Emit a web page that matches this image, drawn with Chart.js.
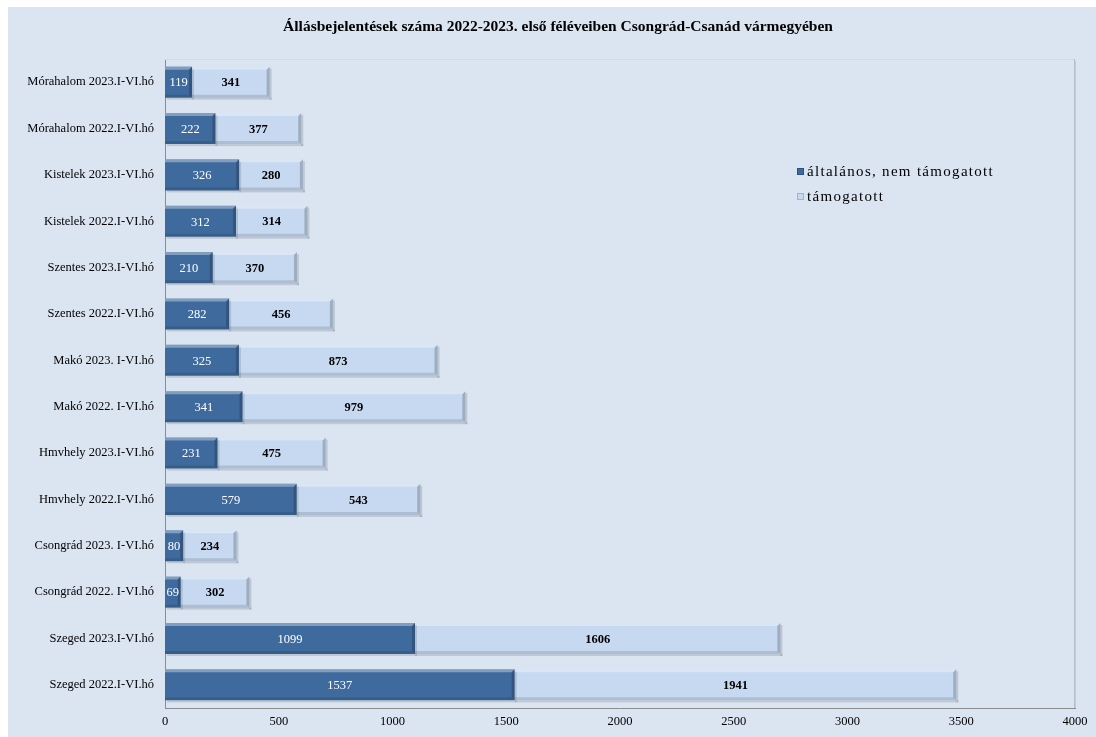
<!DOCTYPE html>
<html>
<head>
<meta charset="utf-8">
<script src="https://cdn.jsdelivr.net/npm/chart.js@4/dist/chart.umd.min.js"></script>
<style>
  html, body { margin: 0; padding: 0; background: #ffffff; }
  #wrap { position: absolute; left: 8px; top: 7px; width: 1088px; height: 730px; background: #dbe5f1; }
</style>
</head>
<body>
<div id="wrap"><canvas id="chart" width="1088" height="730"></canvas></div>
<script>
const chartTitle = 'Állásbejelentések száma 2022-2023. első féléveiben Csongrád-Csanád vármegyében';

const categories = [
    'Mórahalom 2023.I-VI.hó',
    'Mórahalom 2022.I-VI.hó',
    'Kistelek 2023.I-VI.hó',
    'Kistelek 2022.I-VI.hó',
    'Szentes 2023.I-VI.hó',
    'Szentes 2022.I-VI.hó',
    'Makó 2023. I-VI.hó',
    'Makó 2022. I-VI.hó',
    'Hmvhely 2023.I-VI.hó',
    'Hmvhely 2022.I-VI.hó',
    'Csongrád 2023. I-VI.hó',
    'Csongrád 2022. I-VI.hó',
    'Szeged 2023.I-VI.hó',
    'Szeged 2022.I-VI.hó'
];

const seriesNames = ['általános, nem támogatott', 'támogatott'];
const generalValues = [119, 222, 326, 312, 210, 282, 325, 341, 231, 579, 80, 69, 1099, 1537];
const supportedValues = [341, 377, 280, 314, 370, 456, 873, 979, 475, 543, 234, 302, 1606, 1941];
const xTicks = [0, 500, 1000, 1500, 2000, 2500, 3000, 3500, 4000];

const serif = "'Liberation Serif', 'Times New Roman', serif";

// title, centred a bit right of the canvas middle like the original
const titlePlugin = {
    id: 'topTitle',
    afterDraw(chart) {
        const ctx = chart.ctx;
        ctx.save();
        ctx.font = 'bold 15.5px ' + serif;
        ctx.fillStyle = '#000000';
        ctx.textAlign = 'center';
        ctx.textBaseline = 'middle';
        ctx.fillText(chartTitle, 550, 20);
        ctx.restore();
    }
};

// plot area frame (top + right edge, faint)
const framePlugin = {
    id: 'frame',
    beforeDatasetsDraw(chart) {
        const a = chart.chartArea;
        const ctx = chart.ctx;
        ctx.save();
        ctx.strokeStyle = '#d0d9e5';
        ctx.lineWidth = 1;
        ctx.beginPath();
        ctx.moveTo(a.left, a.top + 0.5);
        ctx.lineTo(a.right - 0.5, a.top + 0.5);
        ctx.stroke();
        ctx.strokeStyle = '#b4bfcc';
        ctx.beginPath();
        ctx.moveTo(a.right - 0.5, a.top);
        ctx.lineTo(a.right - 0.5, a.bottom);
        ctx.stroke();
        ctx.strokeStyle = 'rgba(120,130,145,0.25)';
        ctx.beginPath();
        ctx.moveTo(a.right + 0.5, a.top + 2);
        ctx.lineTo(a.right + 0.5, a.bottom);
        ctx.stroke();
        ctx.restore();
    }
};

// bevel look on each bar + value labels
const bevelPlugin = {
    id: 'bevel',
    afterDatasetsDraw(chart) {
        const ctx = chart.ctx;
        const b = 3;
        chart.data.datasets.forEach((ds, di) => {
            const meta = chart.getDatasetMeta(di);
            meta.data.forEach((bar, i) => {
                const l = Math.min(bar.base, bar.x);
                const r = Math.max(bar.base, bar.x);
                const t = bar.y - bar.height / 2;
                const btm = bar.y + bar.height / 2;
                ctx.save();
                // soft shadow under the bar
                ctx.fillStyle = 'rgba(60,70,90,0.18)';
                ctx.fillRect(l + 2, btm, r - l, 2);
                ctx.fillRect(r, t + 2, 2, btm - t);
                ctx.fillStyle = 'rgba(255,255,255,0.35)';
                ctx.beginPath();
                ctx.moveTo(l, t); ctx.lineTo(r, t); ctx.lineTo(r - b, t + b); ctx.lineTo(l, t + b);
                ctx.fill();
                ctx.fillStyle = 'rgba(0,0,0,0.2)';
                ctx.beginPath();
                ctx.moveTo(r, t); ctx.lineTo(r, btm); ctx.lineTo(r - b, btm - b); ctx.lineTo(r - b, t + b);
                ctx.fill();
                ctx.fillStyle = 'rgba(0,0,0,0.12)';
                ctx.beginPath();
                ctx.moveTo(l, btm); ctx.lineTo(r, btm); ctx.lineTo(r - b, btm - b); ctx.lineTo(l, btm - b);
                ctx.fill();

                ctx.fillStyle = di === 0 ? '#ffffff' : '#000000';
                ctx.font = (di === 0 ? '' : 'bold ') + '12.5px ' + serif;
                ctx.textAlign = 'center';
                ctx.textBaseline = 'middle';
                ctx.fillText(String(ds.data[i]), (l + r) / 2, bar.y + 1);
                ctx.restore();
            });
        });
    }
};

// legend drawn inside the plot area
const legendPlugin = {
    id: 'sideLegend',
    afterDraw(chart) {
        const ctx = chart.ctx;
        const x = 789, y0 = 165, step = 25;
        ctx.save();
        ctx.font = '15px ' + serif;
        ctx.letterSpacing = '1.3px';
        ctx.textBaseline = 'middle';
        chart.data.datasets.forEach((ds, i) => {
            const y = y0 + i * step;
            ctx.fillStyle = ds.backgroundColor;
            ctx.fillRect(x, y - 4, 7, 7);
            ctx.strokeStyle = i === 0 ? '#2c5282' : '#9fb3cc';
            ctx.strokeRect(x + 0.5, y - 3.5, 6, 6);
            ctx.fillStyle = '#000000';
            ctx.fillText(ds.label, x + 10, y);
        });
        ctx.restore();
    }
};

new Chart(document.getElementById('chart'), {
    type: 'bar',
    data: {
        labels: categories,
        datasets: [
            { label: seriesNames[0], data: generalValues, backgroundColor: '#3f6a9d' },
            { label: seriesNames[1], data: supportedValues, backgroundColor: '#c6d9f0' }
        ]
    },
    options: {
        indexAxis: 'y',
        responsive: false,
        animation: false,
        layout: { padding: { left: 0, right: 21, top: 52, bottom: 0 } },
        datasets: { bar: { categoryPercentage: 0.67, barPercentage: 1.0 } },
        plugins: {
            legend: { display: false },
            tooltip: { enabled: false },
            title: { display: false }
        },
        scales: {
            x: {
                stacked: true,
                min: 0,
                max: 4000,
                afterBuildTicks(scale) { scale.ticks = xTicks.map(v => ({ value: v })); },
                afterFit(scale) { scale.height = 29; },
                grid: { display: false, drawTicks: false },
                border: { display: true, color: '#8c8c8c', width: 1 },
                ticks: {
                    color: '#000000',
                    padding: 6,
                    font: { family: serif, size: 12.5 },
                    callback: (v) => String(v)
                }
            },
            y: {
                stacked: true,
                afterFit(scale) { scale.width = 157; },
                grid: { display: false, drawTicks: false },
                border: { display: true, color: '#8c8c8c', width: 1 },
                ticks: { color: '#000000', padding: 11, font: { family: serif, size: 12.5 } }
            }
        }
    },
    plugins: [titlePlugin, framePlugin, bevelPlugin, legendPlugin]
});
</script>
</body>
</html>
